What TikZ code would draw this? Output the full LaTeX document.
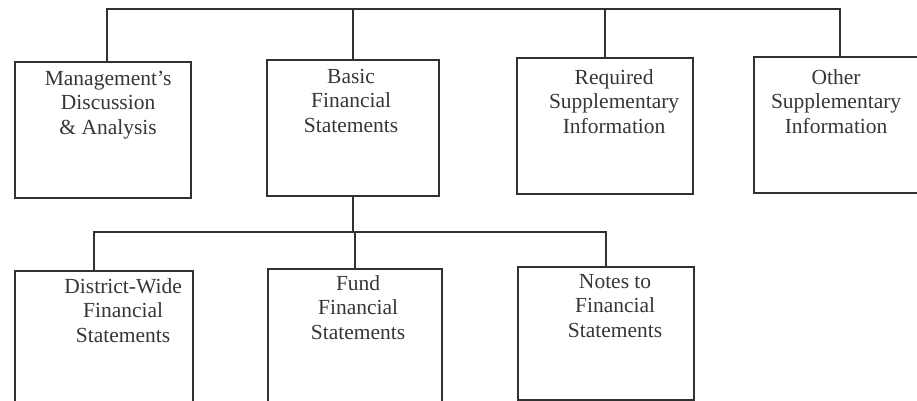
\documentclass[tikz,border=0pt]{standalone}
\usepackage{fontspec}
\setmainfont{Liberation Serif}
\usepackage{xcolor}
\definecolor{inkline}{RGB}{50,48,50}
\definecolor{inktext}{RGB}{55,53,55}
\usepackage{tikz}
\usetikzlibrary{positioning}

\begin{document}
\begin{tikzpicture}[x=1pt, y=-1pt,
  box/.style={rectangle, draw=inkline, line width=2.2pt, inner sep=0pt,
              minimum width=176pt, minimum height=136pt, anchor=north west},
  txt/.style={align=center, inner sep=0pt, text=inktext,
              font=\fontsize{21.5}{24.5}\selectfont},
  wire/.style={draw=inkline, line width=2.2pt}
]
\useasboundingbox (0,0) rectangle (917,401);
% top row
\node[box] (mda) at (14,61) {};
\node[box, minimum width=172pt] (bfs) at (266,59) {};
\node[box] (rsi) at (516,57) {};
\node[box, minimum width=172pt] (osi) at (753,56) {};
% bottom row
\node[box, minimum width=178pt] (dwf) at (14,270) {};
\node[box, minimum width=174pt] (fund) at (267,268) {};
\node[box, minimum height=133pt] (notes) at (517,266) {};
% labels
\node[txt, below=10pt of mda.north, xshift=5pt]   (mda-t)   {Management’s\\Discussion\\\& Analysis};
\node[txt, below=10pt of bfs.north, xshift=-2pt]  (bfs-t)   {Basic\\Financial\\Statements};
\node[txt, below=12pt of rsi.north, xshift=9pt]   (rsi-t)   {Required\\Supplementary\\Information};
\node[txt, below=13pt of osi.north, xshift=-4pt]  (osi-t)   {Other\\Supplementary\\Information};
\node[txt, below=8pt of dwf.north, xshift=19pt]   (dwf-t)   {District-Wide\\Financial\\Statements};
\node[txt, below=7pt of fund.north, xshift=3pt]   (fund-t)  {Fund\\Financial\\Statements};
\node[txt, below=8pt of notes.north, xshift=9pt]  (notes-t) {Notes to\\Financial\\Statements};
% connectors
\coordinate (topbus) at (0,9);
\coordinate (lowbus) at (0,232);
\draw[wire] ([xshift=4pt]mda.north) |- (osi.north |- topbus) -- (osi.north);
\draw[wire] (bfs.north) -- (bfs.north |- topbus);
\draw[wire] (rsi.north) -- (rsi.north |- topbus);
\draw[wire] (bfs.south) -- (bfs.south |- lowbus);
\draw[wire] ([xshift=-10pt]dwf.north) |- (notes.north |- lowbus) -- (notes.north);
\draw[wire] (fund.north) -- (fund.north |- lowbus);
\end{tikzpicture}
\end{document}
